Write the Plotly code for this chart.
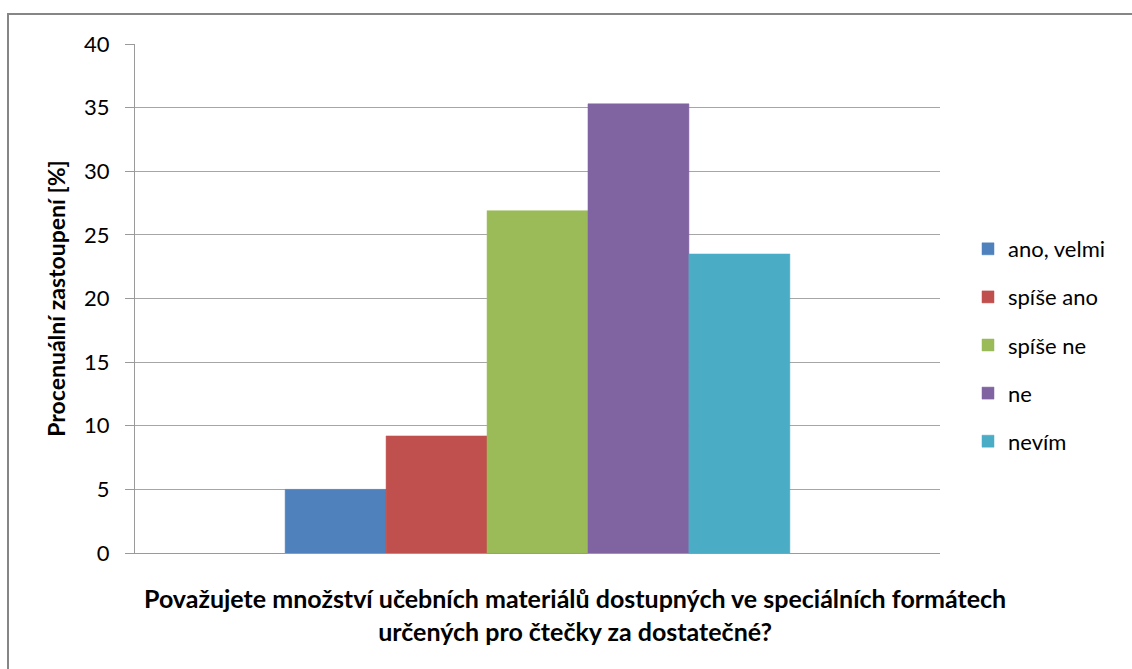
import plotly.graph_objects as go

# Survey answers and their share of respondents [%]
answers = ["ano, velmi", "spíše ano", "spíše ne", "ne", "nevím"]
shares = [5.0, 9.2, 26.9, 35.3, 23.5]
colors = ["#4F81BD", "#C0504D", "#9BBB59", "#8064A2", "#4BACC6"]
y_ticks = [0, 5, 10, 15, 20, 25, 30, 35, 40]

question = ("Považujete množství učebních materiálů dostupných ve speciálních formátech"
            "<br>určených pro čtečky za dostatečné?")
y_title = "Procenuální zastoupení [%]"

W, H = 1132, 669
L, R, T, B = 135, 192, 44, 116
pw, ph = W - L - R, H - T - B

FONT = "Lato"

fig = go.Figure()
for name, val, col in zip(answers, shares, colors):
    fig.add_trace(go.Bar(
        x=[""], y=[val], name=name, legendgroup=name,
        marker=dict(color=col, line=dict(color=col, width=0.5)),
    ))


def px_x(px):
    return (px - L) / pw


def px_y(py):
    return (H - B - py) / ph


fig.update_layout(
    width=W, height=H,
    margin=dict(l=L, r=R, t=T, b=B),
    paper_bgcolor="white", plot_bgcolor="white",
    barmode="group", bargap=0.373, bargroupgap=0,
    font=dict(family=FONT, size=22, color="#000000"),
    showlegend=True,
    legend=dict(
        x=px_x(968), y=px_y(228), xanchor="left", yanchor="top",
        font=dict(family=FONT, size=22, color="#000000"),
        traceorder="grouped", tracegroupgap=16.5,
        bgcolor="rgba(0,0,0,0)",
    ),
    xaxis=dict(
        showgrid=False, showline=True, linecolor="#9A9A9A", linewidth=1,
        ticks="", showticklabels=False, zeroline=False,
    ),
    yaxis=dict(
        range=[0, 40], tickvals=y_ticks, ticktext=[str(v) for v in y_ticks],
        showgrid=True, gridcolor="#A6A6A6", gridwidth=1,
        showline=True, linecolor="#9A9A9A", linewidth=1,
        ticks="outside", ticklen=9, tickcolor="#9A9A9A",
        ticklabelstandoff=11, zeroline=False,
        tickfont=dict(family=FONT, size=22, color="#000000"),
        title=dict(text="<b>" + y_title + "</b>", standoff=12,
                   font=dict(family=FONT, size=23, color="#000000")),
    ),
    shapes=[dict(
        type="rect", xref="paper", yref="paper",
        x0=px_x(8), x1=px_x(1145), y0=px_y(680), y1=px_y(14),
        line=dict(color="#868686", width=2), fillcolor="rgba(0,0,0,0)",
        layer="below",
    )],
    annotations=[dict(
        text="<b>" + question + "</b>", xref="paper", yref="paper",
        x=px_x(575), y=px_y(614), xanchor="center", yanchor="middle",
        showarrow=False, align="center",
        font=dict(family=FONT, size=25, color="#000000"),
    )],
)

fig.write_html("out.html")
